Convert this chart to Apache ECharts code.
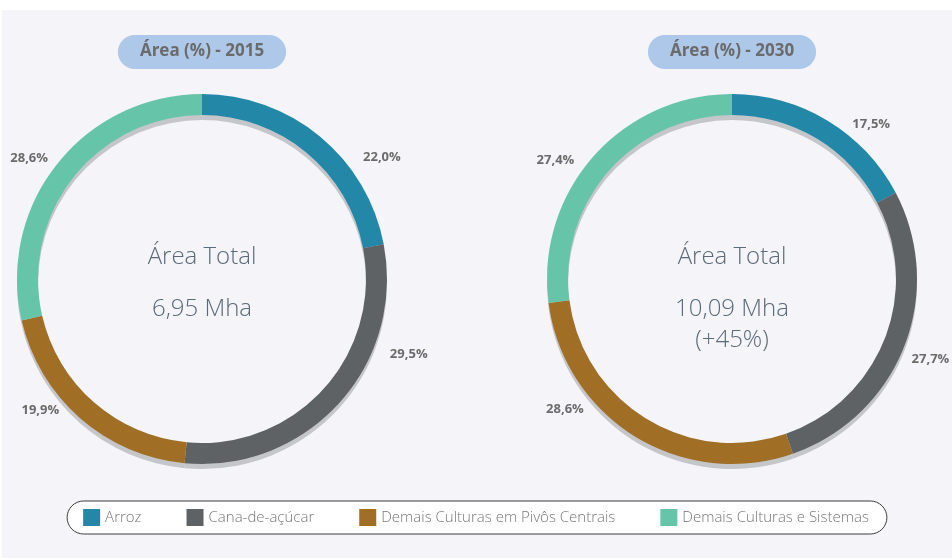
<!DOCTYPE html>
<html>
<head>
<meta charset="utf-8">
<script src="https://cdn.jsdelivr.net/npm/echarts@6/dist/echarts.min.js"></script>
<style>
  html, body { margin: 0; padding: 0; background: #fff; }
  #chart { width: 952px; height: 558px; }
</style>
</head>
<body>
<div id="chart"></div>
<script>
const categories = ['Arroz', 'Cana-de-açúcar', 'Demais Culturas em Pivôs Centrais', 'Demais Culturas e Sistemas']
const colors = ['#2387a8', '#5f6264', '#a06e24', '#66c4a9']
const years = ['2015', '2030']
const share2015 = [22.0, 29.5, 19.9, 28.6]
const share2030 = [17.5, 27.7, 28.6, 27.4]
const totals = ['6,95 Mha', '10,09 Mha\n(+45%)']
// where each percent label sits: angle clockwise from top (deg) and distance from the centre
const labelAngles = [[56, 110, 231, 305], [42, 112, 232, 304]]
const labelDist = [[217, 220, 208, 211], [208, 214, 212, 213]]

const centersX = [202, 732]
const centerY = 279
const font = '"Open Sans", "Noto Sans", sans-serif'

const chart = echarts.init(document.getElementById('chart'))

const makeData = (values) =>
  values.map((v, i) => ({ name: categories[i], value: v, itemStyle: { color: colors[i] } }))

const fmt = (p) => p.value.toFixed(1).replace('.', ',') + '%'

const series = []
;[share2015, share2030].forEach((values, k) => {
  // gray ring shifted down as a drop shadow
  series.push({
    type: 'pie',
    silent: true,
    center: [centersX[k], centerY + 5],
    radius: [164, 185],
    startAngle: 90,
    z: 1,
    label: { show: false },
    labelLine: { show: false },
    itemStyle: { color: '#c5c6ca' },
    data: values.map((v, i) => ({ name: categories[i] + ' ', value: v }))
  })
  series.push({
    type: 'pie',
    center: [centersX[k], centerY],
    radius: [164, 185],
    startAngle: 90,
    z: 2,
    label: {
      show: true,
      position: 'outside',
      formatter: fmt,
      overflow: 'none',
      fontFamily: font,
      fontWeight: 'bold',
      fontSize: 13,
      color: '#6b6b6b'
    },
    labelLine: { show: false },
    labelLayout: (p) => {
      const a = (labelAngles[k][p.dataIndex] * Math.PI) / 180
      const d = labelDist[k][p.dataIndex]
      return {
        x: centersX[k] + d * Math.sin(a),
        y: centerY - d * Math.cos(a),
        align: 'center',
        verticalAlign: 'middle'
      }
    },
    emphasis: { scale: false },
    data: makeData(values)
  })
})

const padX = 22
const option = {
  backgroundColor: '#fff',
  animation: false,
  graphic: [
    { type: 'rect', z: -10, shape: { x: 2, y: 10, width: 950, height: 548 }, style: { fill: '#f4f4f9' } },
    ...centersX.map((x) => ({
      type: 'text',
      x: x,
      y: 257,
      style: {
        text: 'Área Total',
        textAlign: 'center',
        textVerticalAlign: 'middle',
        font: '300 24px ' + font,
        fill: '#5b6a77'
      }
    })),
    ...centersX.map((x, k) => ({
      type: 'text',
      x: x,
      y: 294,
      style: {
        text: totals[k],
        textAlign: 'center',
        textVerticalAlign: 'top',
        font: '300 24px ' + font,
        lineHeight: 31,
        fill: '#5b6a77'
      }
    }))
  ],
  title: years.map((y, k) => ({
    text: 'Área (%) - ' + y,
    left: centersX[k] - padX,
    top: 35,
    textAlign: 'center',
    backgroundColor: '#adc8e8',
    borderRadius: 17,
    padding: [8, padX, 9, padX],
    textStyle: {
      fontFamily: font,
      fontWeight: 'bold',
      fontSize: 17,
      color: '#6b6b6b'
    }
  })),
  legend: {
    data: categories,
    left: 'center',
    top: 501,
    icon: 'rect',
    itemWidth: 17,
    itemHeight: 17,
    itemGap: 45,
    backgroundColor: '#fff',
    borderColor: '#3c3c3c',
    borderWidth: 1,
    borderRadius: 17,
    padding: [8, 18, 8, 16],
    selectedMode: false,
    textStyle: {
      fontFamily: font,
      fontWeight: 300,
      fontSize: 15,
      color: '#777'
    }
  },
  series: series
}

chart.setOption(option)
</script>
</body>
</html>
